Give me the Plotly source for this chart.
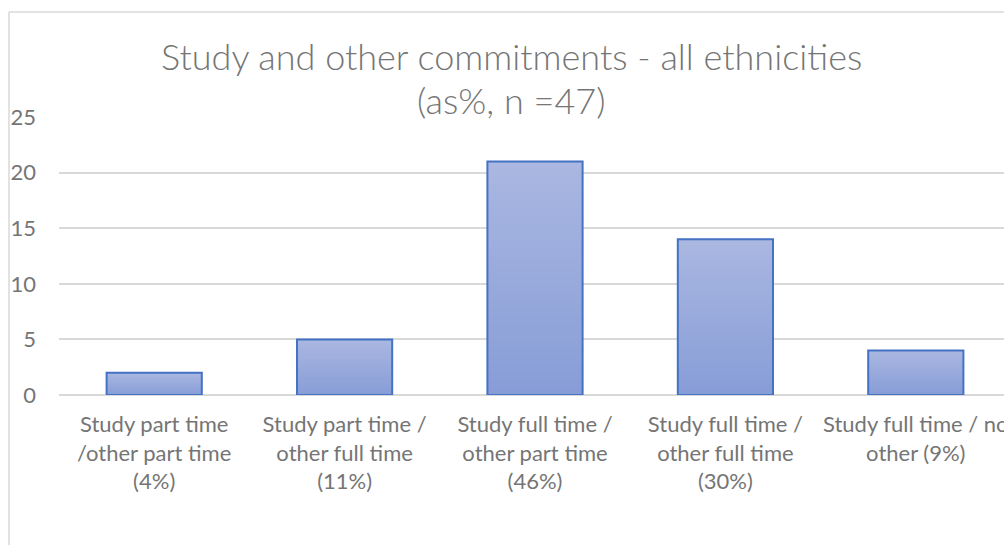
import plotly.graph_objects as go

# Survey data: count of respondents per study / other-commitment combination
categories = [
    "Study part time<br>/other part time<br>(4%)",
    "Study part time /<br>other full time<br>(11%)",
    "Study full time /<br>other part time<br>(46%)",
    "Study full time /<br>other full time<br>(30%)",
    "Study full time / no<br>other (9%)",
]
counts = [2, 5, 21, 14, 4]
y_ticks = [0, 5, 10, 15, 20, 25]

title_line1 = "Study and other commitments - all ethnicities"
title_line2 = "(as%, n =47)"

W, H = 1004, 545
FONT = "Lato, Carlito, Calibri, sans-serif"
TEXT_GREY = "#757575"
GRID_GREY = "#d9d9d9"
BAR_EDGE = "#4472c4"
TOP_RGB = (170, 183, 225)
BOTTOM_RGB = (135, 157, 215)

x_idx = list(range(len(categories)))
fig = go.Figure()

# Vertical gradient inside each bar: overlapping layers, each starting a little
# higher up the bar and reaching its top, so no seams show between colours
N_SLICES = 30
for k in range(N_SLICES):
    t = (k + 0.5) / N_SLICES
    rgb = tuple(round(b + (tp - b) * t) for b, tp in zip(BOTTOM_RGB, TOP_RGB))
    fig.add_trace(go.Bar(
        x=x_idx,
        y=[v * (N_SLICES - k) / N_SLICES for v in counts],
        base=[v * k / N_SLICES for v in counts],
        width=0.5,
        marker=dict(color="rgb(%d,%d,%d)" % rgb, line=dict(width=0)),
        hoverinfo="skip",
        showlegend=False,
    ))

# Bar outlines
fig.add_trace(go.Bar(
    x=x_idx,
    y=counts,
    width=0.5,
    marker=dict(color="rgba(0,0,0,0)", line=dict(color=BAR_EDGE, width=2)),
    showlegend=False,
))

plot_left, plot_top, plot_bottom = 59, 117, 395
cat_step = 190.4
x_end = -0.5 + (W - plot_left) / cat_step

fig.update_layout(
    width=W,
    height=H,
    barmode="overlay",
    paper_bgcolor="white",
    plot_bgcolor="white",
    margin=dict(l=plot_left, r=0, t=plot_top, b=H - plot_bottom, pad=0),
    font=dict(family=FONT, color=TEXT_GREY, size=22),
    xaxis=dict(
        range=[-0.5, x_end],
        tickmode="array",
        tickvals=x_idx,
        ticktext=categories,
        showgrid=False,
        zeroline=False,
        showline=False,
        ticks="",
        tickfont=dict(size=22, color=TEXT_GREY),
        ticklabelstandoff=14,
        ticklabeloverflow="allow",
        automargin=False,
    ),
    yaxis=dict(
        range=[0, 25],
        tickmode="array",
        tickvals=y_ticks,
        showgrid=True,
        gridcolor=GRID_GREY,
        gridwidth=1.5,
        zeroline=True,
        zerolinecolor=GRID_GREY,
        zerolinewidth=1.5,
        showline=False,
        ticks="",
        tickfont=dict(size=22, color=TEXT_GREY),
        ticklabelstandoff=22,
        automargin=False,
    ),
)

# Chart-area frame (left and top edges)
px_to_xpaper = lambda px: (px - plot_left) / (W - plot_left)
py_to_ypaper = lambda py: (plot_bottom - py) / (plot_bottom - plot_top)
fig.add_shape(type="line", xref="paper", yref="paper",
              x0=px_to_xpaper(9), x1=px_to_xpaper(W + 20),
              y0=py_to_ypaper(12), y1=py_to_ypaper(12),
              line=dict(color=GRID_GREY, width=1.5))
fig.add_shape(type="line", xref="paper", yref="paper",
              x0=px_to_xpaper(9), x1=px_to_xpaper(9),
              y0=py_to_ypaper(12), y1=py_to_ypaper(H + 20),
              line=dict(color=GRID_GREY, width=1.5))

# Two-line chart title
title_cx = px_to_xpaper(511.5)
for text, cy in [(title_line1, 56), (title_line2, 100)]:
    fig.add_annotation(
        text=text, xref="paper", yref="paper",
        x=title_cx, y=py_to_ypaper(cy),
        xanchor="center", yanchor="middle",
        showarrow=False,
        font=dict(family=FONT, size=36, color=TEXT_GREY, weight=300),
    )

fig.write_html("out.html")
